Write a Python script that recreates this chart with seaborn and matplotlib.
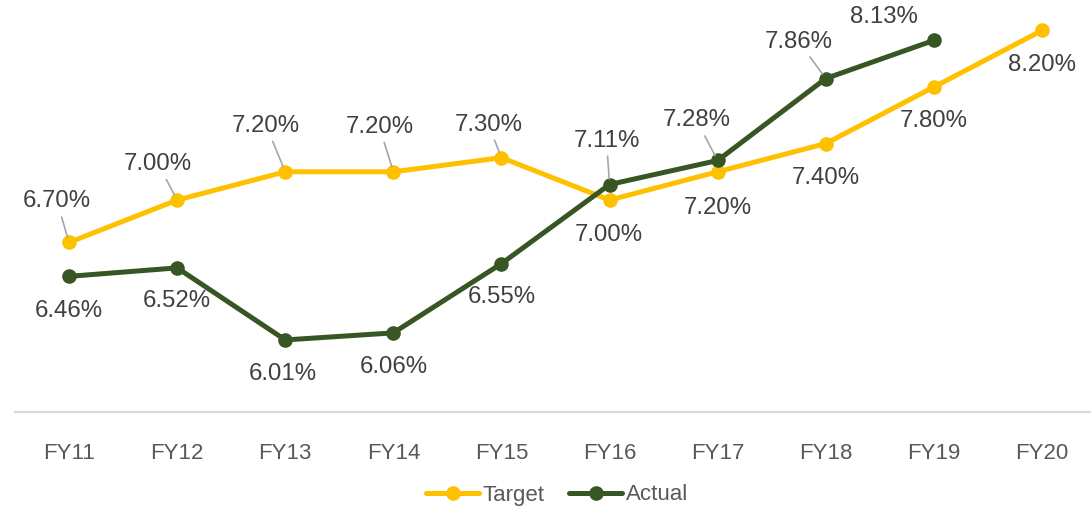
import matplotlib
matplotlib.use("Agg")
import matplotlib.pyplot as plt
import seaborn as sns
import pandas as pd

years = ["FY11", "FY12", "FY13", "FY14", "FY15", "FY16", "FY17", "FY18", "FY19", "FY20"]
target = [6.70, 7.00, 7.20, 7.20, 7.30, 7.00, 7.20, 7.40, 7.80, 8.20]
actual = [6.46, 6.52, 6.01, 6.06, 6.55, 7.11, 7.28, 7.86, 8.13]

# label offsets in pixels (dx, dy up) and whether a leader line is drawn
target_offsets = [(-12, 41), (-19, 36), (-19, 46), (-14, 45), (-13, 33),
                  (-1, -35), (0, -36), (0, -34), (0, -34), (0, -35)]
target_leader = [True, True, True, True, True, False, False, False, False, False]
actual_offsets = [(0, -35), (0, -33), (-2, -34), (0, -34), (0, -33),
                  (-3, 44), (-21, 40), (-27, 37), (-50, 23)]
actual_leader = [False, False, False, False, False, True, True, True, False]

sns.set_style("white")
plt.rcParams["font.family"] = ["Liberation Sans", "DejaVu Sans"]

rows = [("Target", y, v) for y, v in zip(years, target)] + \
       [("Actual", y, v) for y, v in zip(years, actual)]
df = pd.DataFrame(rows, columns=["series", "year", "value"])

fig = plt.figure(figsize=(10.91, 5.08), dpi=100)
ax = fig.add_axes([15 / 1091, 96 / 508, 1081 / 1091, 412 / 508])

palette = {"Target": "#FFC000", "Actual": "#375623"}
sns.lineplot(data=df, x="year", y="value", hue="series", palette=palette,
             hue_order=["Target", "Actual"], sort=False, marker="o",
             markersize=10.5, markeredgewidth=0, linewidth=3.6, ax=ax)

ax.set_xlim(-0.5, 9.5)
ax.set_ylim(5.5, 5.5 + 412 / 141.3)

label_color = "#404040"
lead_color = "#A6A6A6"

def annotate(vals, offsets, leaders):
    for i, (v, (dx, dy), lead) in enumerate(zip(vals, offsets, leaders)):
        kw = {}
        if lead:
            kw["arrowprops"] = dict(arrowstyle="-", color=lead_color, lw=1.2,
                                    shrinkA=1, shrinkB=4)
        ax.annotate(f"{v:.2f}%", xy=(i, v), xytext=(dx, dy),
                    textcoords="offset pixels", ha="center", va="center",
                    fontsize=17.3, color=label_color, **kw)

annotate(target, target_offsets, target_leader)
annotate(actual, actual_offsets, actual_leader)

for s in ["top", "right", "left"]:
    ax.spines[s].set_visible(False)
ax.spines["bottom"].set_color("#D9D9D9")
ax.spines["bottom"].set_linewidth(1.5)
ax.set_yticks([])
ax.set_xlabel("")
ax.set_ylabel("")
ax.tick_params(axis="x", length=0, pad=22, labelsize=16, labelcolor="#595959")

handles, labels = ax.get_legend_handles_labels()
ax.legend(handles, labels, loc="center", bbox_to_anchor=(557 / 1091, 1 - 495 / 508),
          bbox_transform=fig.transFigure, ncol=2, frameon=False, fontsize=16,
          handlelength=2.4, handletextpad=0.15, columnspacing=1.1,
          labelcolor="#595959")

fig.savefig("out.png", dpi=100)
